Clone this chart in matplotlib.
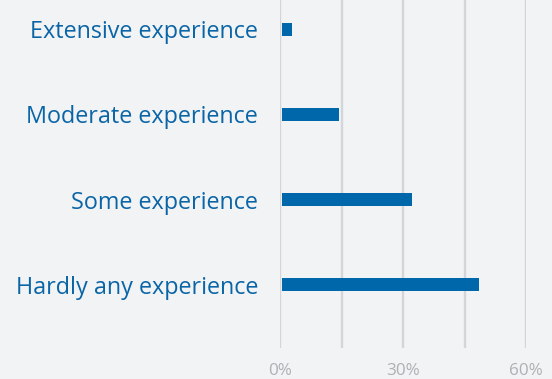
"""
Experience levels, horizontal bar chart
"""

import matplotlib.pyplot as plt

# Settings
plt.rcParams['font.family'] = ['Open Sans', 'DejaVu Sans']

bg = '#f2f3f5'
blue = '#0067aa'
label_blue = '#0a65a6'
grid_grey = '#d4d5d8'
tick_grey = '#aeb0b3'

categories = [
    'Hardly any experience',
    'Some experience',
    'Moderate experience',
    'Extensive experience',
]
shares = [48.6, 32.2, 14.3, 2.9]

xticks = [0, 15, 30, 45, 60]
xticklabels = ['0%', '', '30%', '', '60%']

gap = 0.35  # bars start just right of the zero line


fig = plt.figure(figsize = (5.52, 3.79), dpi = 100, facecolor = bg)
ax = fig.add_axes([280.3 / 552, (379 - 348) / 379, (526 - 280.3) / 552, 348 / 379])
ax.set_facecolor(bg)

ypos = list(range(len(categories)))
ax.barh(ypos, [s - gap for s in shares], height = 0.153, color = blue, left = gap, zorder = 3)

ax.set_xlim(0, 60)
ax.set_ylim(-0.747, 3.347)

ax.set_xticks(xticks)
ax.set_xticklabels(xticklabels)
ax.set_yticks(ypos)
ax.set_yticklabels(categories)

ax.grid(axis = 'x', color = grid_grey, linewidth = 1.7, zorder = 0)
ax.grid(axis = 'y', visible = False)

for s in ax.spines.values():
    s.set_visible(False)

ax.tick_params(axis = 'x', length = 0, pad = 10.5, labelsize = 12.3, labelcolor = tick_grey)
ax.tick_params(axis = 'y', length = 0, pad = 16, labelsize = 16.8, labelcolor = label_blue)

plt.savefig('out.png', dpi = 100, facecolor = bg)
